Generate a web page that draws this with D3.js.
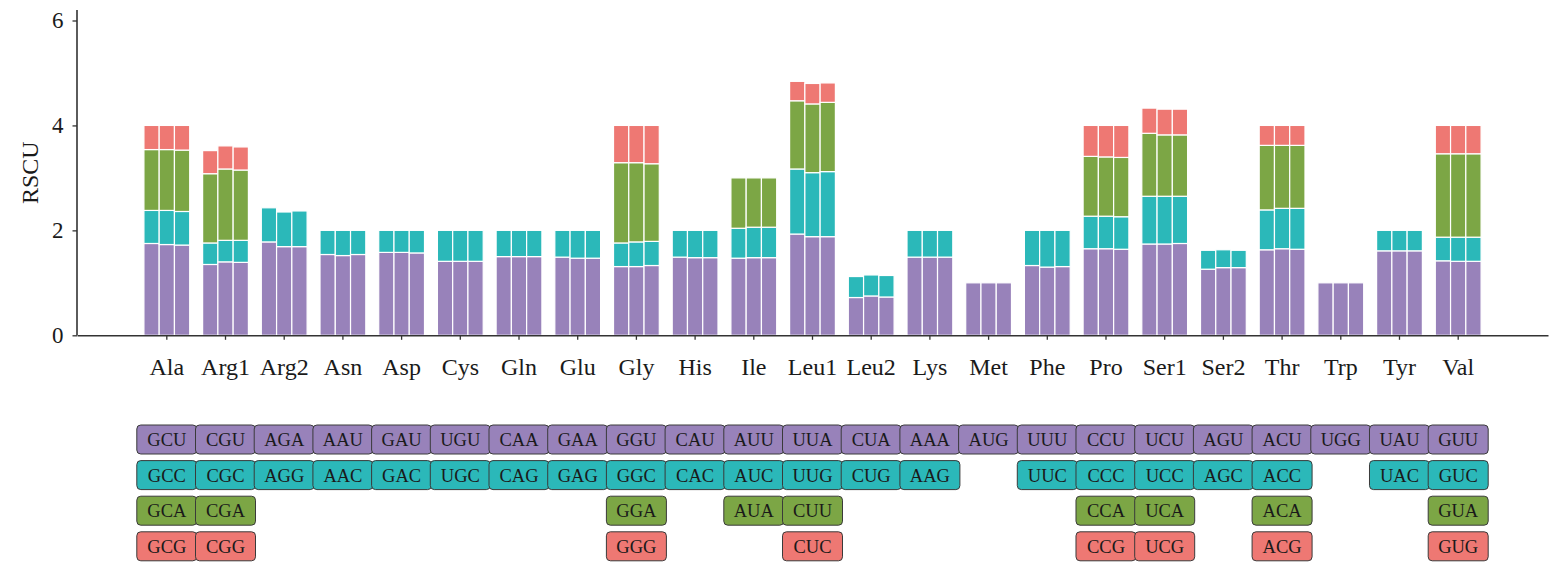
<!DOCTYPE html>
<html>
<head>
<meta charset="utf-8">
<script src="https://cdn.jsdelivr.net/npm/d3@7"></script>
<style>
  body { margin: 0; background: #fff; }
  svg text { font-family: "Liberation Serif", "Times New Roman", Times, serif; }
</style>
</head>
<body>
<svg id="chart" width="1566" height="567"></svg>
<script>
// amino acids on the x axis
const aminoAcids = ['Ala', 'Arg1', 'Arg2', 'Asn', 'Asp', 'Cys', 'Gln', 'Glu', 'Gly', 'His',
  'Ile', 'Leu1', 'Leu2', 'Lys', 'Met', 'Phe', 'Pro', 'Ser1', 'Ser2', 'Thr', 'Trp', 'Tyr', 'Val'];

// codons per amino acid, in stacking order (bottom to top)
const codons = [
  ['GCU', 'GCC', 'GCA', 'GCG'], ['CGU', 'CGC', 'CGA', 'CGG'], ['AGA', 'AGG'], ['AAU', 'AAC'],
  ['GAU', 'GAC'], ['UGU', 'UGC'], ['CAA', 'CAG'], ['GAA', 'GAG'], ['GGU', 'GGC', 'GGA', 'GGG'],
  ['CAU', 'CAC'], ['AUU', 'AUC', 'AUA'], ['UUA', 'UUG', 'CUU', 'CUC'], ['CUA', 'CUG'],
  ['AAA', 'AAG'], ['AUG'], ['UUU', 'UUC'], ['CCU', 'CCC', 'CCA', 'CCG'], ['UCU', 'UCC', 'UCA', 'UCG'],
  ['AGU', 'AGC'], ['ACU', 'ACC', 'ACA', 'ACG'], ['UGG'], ['UAU', 'UAC'], ['GUU', 'GUC', 'GUA', 'GUG']
];

// RSCU values, one array per sample (three bars per amino acid)
const rscu1 = [
  [1.75, 0.63, 1.16, 0.46], [1.35, 0.41, 1.32, 0.44], [1.78, 0.65], [1.54, 0.46],
  [1.58, 0.42], [1.41, 0.59], [1.50, 0.50], [1.49, 0.51], [1.31, 0.45, 1.53, 0.71],
  [1.49, 0.51], [1.47, 0.57, 0.96], [1.93, 1.24, 1.30, 0.37], [0.72, 0.40],
  [1.49, 0.51], [1.00], [1.33, 0.67], [1.65, 0.62, 1.14, 0.59], [1.74, 0.91, 1.20, 0.48],
  [1.26, 0.36], [1.63, 0.76, 1.23, 0.38], [1.00], [1.61, 0.39], [1.42, 0.45, 1.59, 0.54]
];
const rscu2 = [
  [1.73, 0.65, 1.16, 0.46], [1.40, 0.41, 1.36, 0.44], [1.69, 0.66], [1.52, 0.48],
  [1.58, 0.42], [1.41, 0.59], [1.50, 0.50], [1.47, 0.53], [1.31, 0.47, 1.51, 0.71],
  [1.48, 0.52], [1.48, 0.58, 0.94], [1.88, 1.22, 1.31, 0.39], [0.75, 0.40],
  [1.49, 0.51], [1.00], [1.30, 0.70], [1.65, 0.62, 1.13, 0.60], [1.74, 0.91, 1.17, 0.49],
  [1.29, 0.34], [1.65, 0.77, 1.20, 0.38], [1.00], [1.61, 0.39], [1.41, 0.46, 1.59, 0.54]
];
const rscu3 = [
  [1.72, 0.64, 1.17, 0.47], [1.39, 0.42, 1.34, 0.44], [1.69, 0.68], [1.54, 0.46],
  [1.57, 0.43], [1.41, 0.59], [1.50, 0.50], [1.47, 0.53], [1.33, 0.46, 1.48, 0.73],
  [1.48, 0.52], [1.48, 0.58, 0.94], [1.88, 1.24, 1.32, 0.37], [0.73, 0.41],
  [1.49, 0.51], [1.00], [1.31, 0.69], [1.64, 0.62, 1.13, 0.61], [1.75, 0.90, 1.17, 0.49],
  [1.29, 0.33], [1.64, 0.78, 1.20, 0.38], [1.00], [1.61, 0.39], [1.41, 0.46, 1.59, 0.54]
];
const samples = [rscu1, rscu2, rscu3];

const yTicks = [0, 2, 4, 6];
const colors = ['#9882ba', '#2bb8b9', '#7ca645', '#ee7873'];
const serif = '"Liberation Serif", "Times New Roman", Times, serif';

const svg = d3.select('#chart');
const margin = {left: 77, top: 10, axisY: 335.3};

const x = d3.scaleBand()
  .domain(aminoAcids)
  .range([margin.left, 1548])
  .paddingInner(0)
  .paddingOuter(1.03);

const sub = d3.scaleBand()
  .domain(d3.range(samples.length))
  .range([-x.bandwidth() * 0.39, x.bandwidth() * 0.39]);

const y = d3.scaleLinear().domain([0, 6.2]).range([margin.axisY, margin.top]);

// stacked segments: one entry per codon per sample
const segs = [];
samples.forEach((vals, s) => {
  vals.forEach((v, i) => {
    let base = 0;
    v.forEach((val, k) => {
      segs.push({aa: aminoAcids[i], s, k, y0: base, y1: base + val});
      base += val;
    });
  });
});

svg.append('g').selectAll('rect')
  .data(segs)
  .join('rect')
  .attr('x', d => x(d.aa) + x.bandwidth() / 2 + sub(d.s))
  .attr('width', sub.bandwidth())
  .attr('y', d => y(d.y1))
  .attr('height', d => y(d.y0) - y(d.y1))
  .attr('fill', d => colors[d.k])
  .attr('stroke', '#fff')
  .attr('stroke-width', 1.2);

// axes
const xAxis = svg.append('g')
  .attr('transform', `translate(0,${margin.axisY})`)
  .call(d3.axisBottom(x).tickSize(4.5).tickSizeOuter(0).tickPadding(18));
const yAxis = svg.append('g')
  .attr('transform', `translate(${margin.left},0)`)
  .call(d3.axisLeft(y).tickValues(yTicks).tickFormat(d3.format('d'))
    .tickSize(4.5).tickSizeOuter(0).tickPadding(9));

[xAxis, yAxis].forEach(g => {
  g.attr('font-family', serif);
  g.select('.domain').attr('stroke', '#333').attr('stroke-width', 1.6);
  g.selectAll('.tick line').attr('stroke', '#333').attr('stroke-width', 1.3);
  g.selectAll('.tick text')
    .attr('fill', '#1a1a1a')
    .attr('font-family', serif);
});
xAxis.selectAll('.tick text').attr('font-size', 24);
yAxis.selectAll('.tick text').attr('font-size', 23);
// extend y axis line to the top of the range
yAxis.select('.domain').attr('d', `M0,${y(0)}V${y.range()[1]}`);

svg.append('text')
  .attr('transform', `translate(38,${y(3.1)}) rotate(-90)`)
  .attr('text-anchor', 'middle')
  .attr('font-family', serif)
  .attr('font-size', 24)
  .attr('fill', '#1a1a1a')
  .text('RSCU');

// codon legend boxes below the axis
const rowTop = 425, rowStep = 35.6, boxH = 29, boxW = 60;
const boxes = [];
codons.forEach((list, i) => {
  list.forEach((c, k) => boxes.push({aa: aminoAcids[i], k, c}));
});

const bg = svg.append('g').selectAll('g')
  .data(boxes)
  .join('g')
  .attr('transform', d => `translate(${x(d.aa) + x.bandwidth() / 2},${rowTop + d.k * rowStep})`);

bg.append('rect')
  .attr('x', -boxW / 2)
  .attr('y', 0)
  .attr('width', boxW)
  .attr('height', boxH)
  .attr('rx', 4)
  .attr('fill', d => colors[d.k])
  .attr('stroke', '#3a3a3a')
  .attr('stroke-width', 1);

bg.append('text')
  .attr('x', 0)
  .attr('y', boxH / 2)
  .attr('dy', '0.35em')
  .attr('text-anchor', 'middle')
  .attr('font-family', serif)
  .attr('font-size', 18.5)
  .attr('fill', '#1a1a1a')
  .text(d => d.c);
</script>
</body>
</html>
